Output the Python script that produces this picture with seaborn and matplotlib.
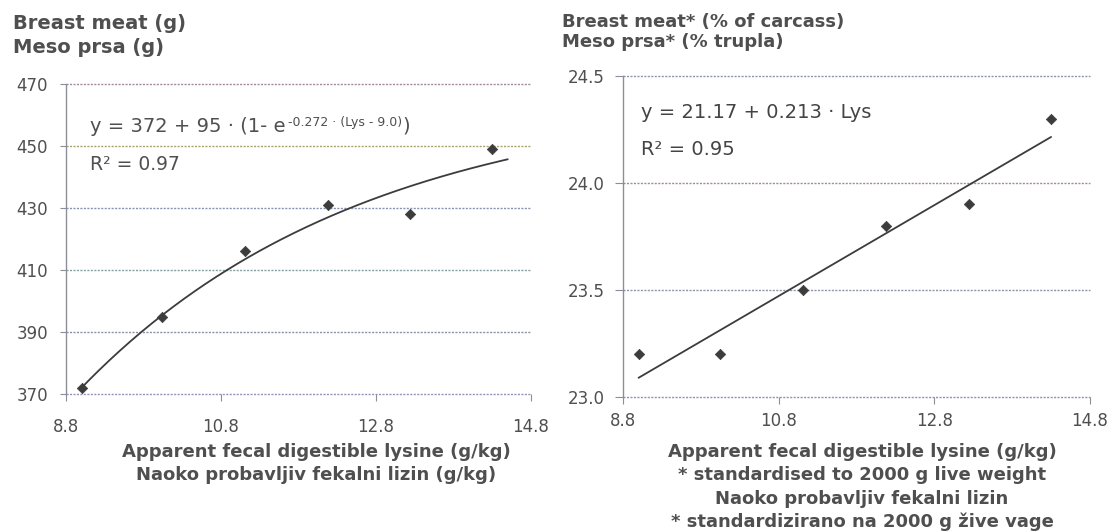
import numpy as np
import pandas as pd
import matplotlib
matplotlib.use("Agg")
import matplotlib.pyplot as plt
import seaborn as sns

# ---------------- data ----------------
lysine = [9.0, 10.04, 11.11, 12.18, 13.24, 14.30]
breast_meat_g = [372, 395, 416, 431, 428, 449]
breast_meat_pct = [23.2, 23.2, 23.5, 23.8, 23.9, 24.3]

x_ticks = [8.8, 10.8, 12.8, 14.8]
x_tick_labels = ["8.8", "10.8", "12.8", "14.8"]
left_y_ticks = [370, 390, 410, 430, 450, 470]
left_y_tick_labels = ["370", "390", "410", "430", "450", "470"]
right_y_ticks = [23.0, 23.5, 24.0, 24.5]
right_y_tick_labels = ["23.0", "23.5", "24.0", "24.5"]

# fitted exponential model displayed on the left panel
fit_a, fit_b, fit_k, fit_x0 = 372, 95, 0.272, 9.0
curve_end = 14.5

left_title = ["Breast meat (g)", "Meso prsa (g)"]
right_title = ["Breast meat* (% of carcass)", "Meso prsa* (% trupla)"]
left_xlabel = ["Apparent fecal digestible lysine (g/kg)",
               "Naoko probavljiv fekalni lizin (g/kg)"]
right_xlabel = ["Apparent fecal digestible lysine (g/kg)",
                "* standardised to 2000 g live weight",
                "Naoko probavljiv fekalni lizin",
                "* standardizirano na 2000 g žive vage"]
left_eq_main = "y = 372 + 95 · (1- e"
left_eq_sup = "-0.272 · (Lys - 9.0)"
left_eq_close = ")"
left_r2 = "R² = 0.97"
right_eq = "y = 21.17 + 0.213 · Lys"
right_r2 = "R² = 0.95"

# ---------------- styling ----------------
sns.set_style("white")
plt.rcParams["font.family"] = ["DejaVu Sans"]
TXT = "#4f4f4f"
MARK = "#3c3c3c"
GRID = "#8c8f99"

W, H = 1110, 532
fig = plt.figure(figsize=(W / 100, H / 100), dpi=100)
fig.patch.set_facecolor("white")


def px_axes(x0, x1, ytop, ybot):
    return [x0 / W, 1 - ybot / H, (x1 - x0) / W, (ybot - ytop) / H]


axL = fig.add_axes(px_axes(66, 531, 84, 394))
axR = fig.add_axes(px_axes(623, 1090, 76, 396.5))

df = pd.DataFrame({"lysine": lysine, "g": breast_meat_g, "pct": breast_meat_pct})

# left panel: exponential fit + points
xs = np.linspace(lysine[0], curve_end, 200)
curve = pd.DataFrame({"lysine": xs,
                      "g": fit_a + fit_b * (1 - np.exp(-fit_k * (xs - fit_x0)))})
sns.lineplot(data=curve, x="lysine", y="g", ax=axL, color=MARK, linewidth=1.3)
sns.scatterplot(data=df, x="lysine", y="g", ax=axL, marker="D", s=28,
                color=MARK, edgecolor=MARK, linewidth=0.5, zorder=5)

# right panel: linear regression + points
sns.regplot(data=df, x="lysine", y="pct", ax=axR, ci=None, scatter=False,
            line_kws=dict(color=MARK, linewidth=1.3))
sns.scatterplot(data=df, x="lysine", y="pct", ax=axR, marker="D", s=28,
                color=MARK, edgecolor=MARK, linewidth=0.5, zorder=5)

left_grid_cols = ["#9a8fb8", "#8a90a8", "#86a0a0", "#8a94b0", "#a9a46a", "#a08a9e"]
right_grid_cols = ["#8a94b0", "#8a96a8", "#a08a9e", "#8a94b0"]

for ax, yt, ytl, ylim, gcols, xpad, ypad, ytl_len in [
    (axL, left_y_ticks, left_y_tick_labels, (370, 470), left_grid_cols, 12, 9, 4),
    (axR, right_y_ticks, right_y_tick_labels, (23.0, 24.5), right_grid_cols, 6, 7, 6),
]:
    ax.set_xlim(8.8, 14.8)
    ax.set_ylim(*ylim)
    ax.set_xticks(x_ticks)
    ax.set_xticklabels(x_tick_labels)
    ax.set_yticks(yt)
    ax.set_yticklabels(ytl)
    ax.set_xlabel("")
    ax.set_ylabel("")
    ax.set_facecolor("none")
    ax.grid(False)
    ax.yaxis.grid(True, linestyle=(0, (1.5, 1)), linewidth=1.0)
    for gl, c in zip(ax.get_ygridlines(), gcols):
        gl.set_color(c)
        gl.set_clip_on(False)
    for s in ["top", "right", "bottom"]:
        ax.spines[s].set_visible(False)
    ax.spines["left"].set_color(GRID)
    ax.spines["left"].set_linestyle((0, (1.5, 1)))
    ax.spines["left"].set_linewidth(1.0)
    ax.tick_params(axis="x", direction="out", length=5, width=0.8, color=GRID,
                   pad=xpad, labelsize=12, labelcolor=TXT, bottom=True)
    ax.tick_params(axis="y", direction="out", length=ytl_len, width=0.8, color=GRID,
                   pad=ypad, labelsize=12, labelcolor=TXT, left=True)

# titles (y-axis captions)
fig.text(13 / W, 1 - 29.3 / H, left_title[0], fontsize=14, fontweight="bold",
         color=TXT, va="baseline", ha="left")
fig.text(13 / W, 1 - 53.3 / H, left_title[1], fontsize=14, fontweight="bold",
         color=TXT, va="baseline", ha="left")
fig.text(562 / W, 1 - 26.7 / H, right_title[0], fontsize=13, fontweight="bold",
         color=TXT, va="baseline", ha="left")
fig.text(562 / W, 1 - 46.7 / H, right_title[1], fontsize=13, fontweight="bold",
         color=TXT, va="baseline", ha="left")

# x-axis captions
for i, line in enumerate(left_xlabel):
    fig.text(316 / W, 1 - (456.7 + 23.5 * i) / H, line, fontsize=13,
             fontweight="bold", color=TXT, va="baseline", ha="center")
for i, line in enumerate(right_xlabel):
    fig.text(862 / W, 1 - (456.7 + 23.5 * i) / H, line, fontsize=13,
             fontweight="bold", color=TXT, va="baseline", ha="center")

# equations
renderer = fig.canvas.get_renderer()
t_main = fig.text(90 / W, 1 - 132 / H, left_eq_main, fontsize=14, color=TXT,
                  va="baseline")
bb = t_main.get_window_extent(renderer)
t_sup = fig.text((bb.x1 + 2) / W, 1 - 126 / H, left_eq_sup, fontsize=9,
                 color=TXT, va="baseline")
bb2 = t_sup.get_window_extent(renderer)
fig.text((bb2.x1 + 1) / W, 1 - 132 / H, left_eq_close, fontsize=14, color=TXT,
         va="baseline")
fig.text(90 / W, 1 - 170 / H, left_r2, fontsize=13.5, color=TXT, va="baseline")
fig.text(641 / W, 1 - 118 / H, right_eq, fontsize=14, color="#444444", va="baseline")
fig.text(641 / W, 1 - 155 / H, right_r2, fontsize=14, color="#444444", va="baseline")

fig.savefig("out.png", dpi=100, facecolor="white")
